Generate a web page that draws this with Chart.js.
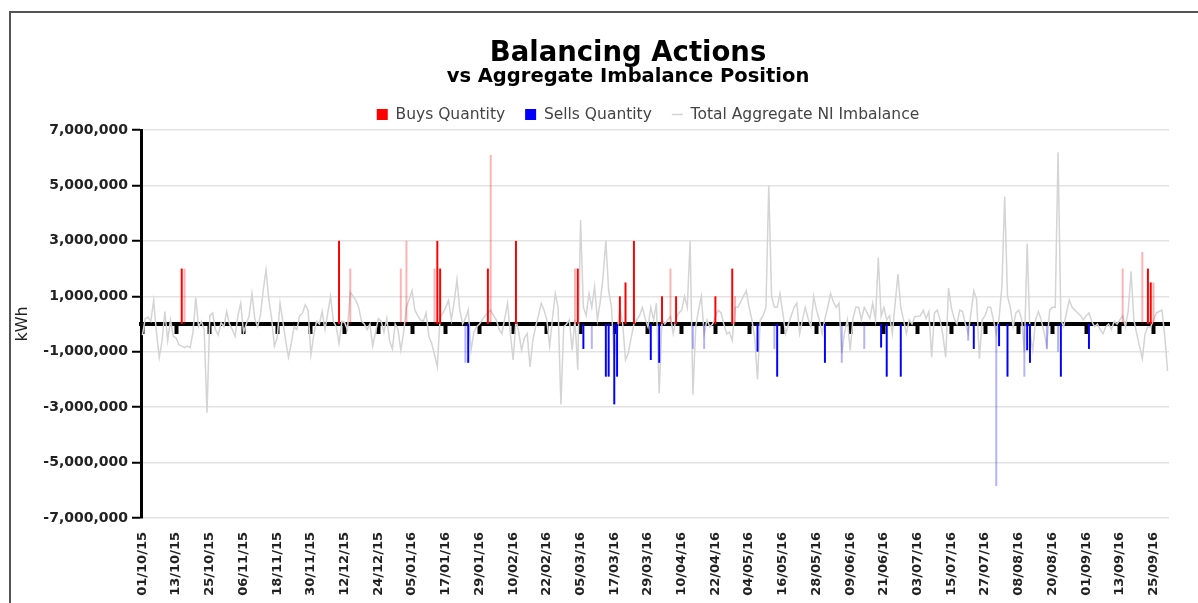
<!DOCTYPE html>
<html>
<head>
<meta charset="utf-8">
<title>Balancing Actions</title>
<script src="https://cdn.jsdelivr.net/npm/chart.js@4.4.1/dist/chart.umd.min.js"></script>
<style>
  html, body { margin: 0; padding: 0; background: #fff; overflow: hidden; }
  #frame { position: absolute; left: 9px; top: 11px; width: 1300px; height: 700px; border: 2px solid #555; }
  #chart { position: absolute; left: 0; top: 0; }
</style>
</head>
<body>
<div id="frame"></div>
<canvas id="chart" width="1198" height="603"></canvas>
<script>
// one category per day, 01/10/15 .. 30/09/16
const firstDay = [2015, 9, 1];
const dayCount = 366;
const labelEvery = 12;

// Total Aggregate NI Imbalance (kWh), one value per day
const imbalance = [
  -400000, 200000, 250000, 100000, 850000, -300000, -1200000, -600000, 450000, -600000, 150000, -450000,
  -500000, -750000, -800000, -850000, -800000, -850000, -300000, 950000, -100000, 100000, -200000, -3200000,
  300000, 400000, -200000, -400000, 50000, -100000, 450000, 0, -200000, -450000, 300000, 750000,
  -300000, 0, 300000, 1100000, 200000, -100000, 300000, 1200000, 1950000, 900000, 200000, -800000,
  -500000, 750000, 100000, -600000, -1200000, -700000, -100000, -200000, 300000, 400000, 700000, 500000,
  -1100000, -400000, 100000, 0, 450000, -200000, 400000, 1000000, 100000, -100000, -700000, 100000,
  50000, -200000, 1150000, 1000000, 850000, 600000, 100000, 0, -200000, 0, -800000, -300000,
  200000, 100000, -300000, 200000, -600000, -900000, 0, -200000, -950000, -300000, 600000, 900000,
  1200000, 500000, 300000, 150000, 100000, 400000, -450000, -700000, -1100000, -1550000, 250000, 400000,
  600000, 850000, 150000, 800000, 1600000, 500000, 0, 200000, 500000, -950000, -300000, -100000,
  0, 150000, 300000, 400000, 500000, 300000, 150000, -200000, -350000, 200000, 750000, -350000,
  -1300000, 150000, -300000, -950000, -500000, -350000, -1550000, -600000, -100000, 300000, 750000, 500000,
  150000, -800000, 200000, 1100000, 600000, -2900000, -100000, 0, 150000, -950000, 150000, -1650000,
  3750000, 600000, 300000, 1100000, 600000, 1350000, 150000, 800000, 1700000, 3000000, 1200000, 600000,
  -1300000, -300000, 600000, 0, -1300000, -1050000, -500000, 0, 150000, 300000, 600000, 200000,
  -100000, 600000, 150000, 750000, -2500000, 150000, 0, 150000, 270000, -350000, 200000, 400000,
  500000, 1000000, 600000, 3000000, -2550000, -100000, 500000, 1000000, -350000, 150000, -100000, 0,
  270000, 500000, 400000, 0, -350000, -300000, -600000, 600000, 600000, 800000, 1000000, 1200000,
  600000, 150000, -500000, -2000000, 150000, 300000, 600000, 5000000, 1000000, 600000, 600000, 1100000,
  400000, -350000, 0, 300000, 600000, 750000, -350000, 150000, 600000, 200000, -100000, 1000000,
  500000, 150000, -350000, 200000, 600000, 1100000, 800000, 600000, 750000, -1050000, -300000, 150000,
  -950000, 200000, 600000, 600000, 150000, 600000, 400000, 200000, 750000, 150000, 2400000, 270000,
  600000, 150000, 300000, -350000, 750000, 1800000, 600000, 150000, -350000, 150000, 0, 270000,
  270000, 300000, 500000, 200000, 450000, -1200000, 400000, 500000, 150000, -400000, -1200000, 1300000,
  600000, 200000, 0, 500000, 450000, 0, -350000, 400000, 1200000, 900000, -1250000, 150000,
  300000, 600000, 600000, 150000, -350000, 200000, 1350000, 4600000, 1000000, 600000, -100000, 400000,
  500000, 200000, -1000000, 2900000, -350000, -950000, 150000, 450000, 150000, -300000, -800000, 500000,
  600000, 600000, 6200000, 150000, -100000, 400000, 870000, 600000, 500000, 400000, 300000, 150000,
  300000, 400000, 100000, -100000, 0, -200000, -350000, -100000, 0, -200000, 100000, 0,
  150000, 300000, -100000, 500000, 1900000, 150000, -350000, -800000, -1250000, -350000, -100000, -100000,
  150000, 400000, 450000, 500000, -450000, -1700000
];

// Buys Quantity (kWh)
const buyDates = ['15/10/15', '10/12/15', '14/01/16', '15/01/16', '01/02/16', '11/02/16', '04/03/16', '19/03/16',
  '21/03/16', '24/03/16', '03/04/16', '08/04/16', '22/04/16', '28/04/16', '23/09/16', '24/09/16'];
const buyValues = [2000000, 3000000, 3000000, 2000000, 2000000, 3000000, 2000000, 1000000,
  1500000, 3000000, 1000000, 1000000, 1000000, 2000000, 2000000, 1500000];
// buys drawn faint in the picture
const buyDatesFaint = ['16/10/15', '14/12/15', '01/01/16', '03/01/16', '13/01/16', '02/02/16', '03/03/16', '06/04/16',
  '29/04/16', '14/09/16', '21/09/16', '25/09/16'];
const buyValuesFaint = [2000000, 2000000, 2000000, 3000000, 2000000, 6100000, 2000000, 2000000,
  1000000, 2000000, 2600000, 1500000];

// Sells Quantity (kWh)
const sellDates = ['25/01/16', '06/03/16', '14/03/16', '15/03/16', '17/03/16', '18/03/16', '30/03/16', '02/04/16',
  '07/05/16', '14/05/16', '31/05/16', '20/06/16', '22/06/16', '27/06/16', '23/07/16', '01/08/16',
  '04/08/16', '11/08/16', '12/08/16', '23/08/16', '02/09/16'];
const sellValues = [-1400000, -900000, -1900000, -1900000, -2900000, -1900000, -1300000, -1400000,
  -1000000, -1900000, -1400000, -850000, -1900000, -1900000, -900000, -800000,
  -1900000, -950000, -1400000, -1900000, -900000];
const sellDatesFaint = ['24/01/16', '09/03/16', '14/04/16', '18/04/16', '13/05/16', '06/06/16', '14/06/16', '21/07/16',
  '31/07/16', '10/08/16', '18/08/16', '22/08/16'];
const sellValuesFaint = [-1400000, -900000, -900000, -900000, -900000, -1400000, -900000, -600000,
  -5850000, -1900000, -900000, -1000000];

const yMin = -7000000;
const yMax = 7000000;
const yStep = 2000000;

function two(n) {
  return String(n).padStart(2, '0');
}

const days = [];
for (let i = 0; i < dayCount; i++) {
  const d = new Date(firstDay[0], firstDay[1], firstDay[2] + i);
  days.push(two(d.getDate()) + '/' + two(d.getMonth() + 1) + '/' + String(d.getFullYear()).slice(2));
}

function spread(dates, values) {
  const out = days.map(() => null);
  dates.forEach((d, i) => { out[days.indexOf(d)] = values[i]; });
  return out;
}

const fontFamily = 'Verdana, "DejaVu Sans", sans-serif';
Chart.defaults.font.family = fontFamily;

// title/legend are centred a little right of the canvas middle in the original
const headerShift = {
  id: 'headerShift',
  beforeLayout(chart) {
    const legend = chart.legend;
    if (legend && !legend.trimmed) {
      const fit = legend.fit;
      legend.fit = function () {
        fit.call(this);
        this.height -= 2.25;
      };
      legend.trimmed = true;
    }
  },
  afterLayout(chart) {
    chart.boxes.forEach(b => {
      if (b.options && typeof b.options.text === 'string') {
        b.left += 39;
        b.right += 39;
      }
      if (b === chart.legend) {
        b.left += 59;
        b.right += 59;
      }
    });
  }
};

const barBase = { grouped: false, barPercentage: 0.7, categoryPercentage: 1, order: 0, pointStyle: 'rect' };

new Chart(document.getElementById('chart'), {
  type: 'bar',
  data: {
    labels: days,
    datasets: [
      Object.assign({ label: 'Buys Quantity', data: spread(buyDates, buyValues), backgroundColor: '#ff0000' }, barBase),
      Object.assign({ label: 'Sells Quantity', data: spread(sellDates, sellValues), backgroundColor: '#0000ff' }, barBase),
      {
        type: 'line',
        label: 'Total Aggregate NI Imbalance',
        data: imbalance,
        borderColor: '#d4d4d4',
        backgroundColor: '#d4d4d4',
        borderWidth: 1.5,
        pointRadius: 0,
        pointStyle: 'line',
        tension: 0,
        order: 1
      },
      Object.assign({ label: 'Buys (faint)', data: spread(buyDatesFaint, buyValuesFaint), backgroundColor: 'rgba(255,0,0,0.3)' }, barBase),
      Object.assign({ label: 'Sells (faint)', data: spread(sellDatesFaint, sellValuesFaint), backgroundColor: 'rgba(0,0,255,0.3)' }, barBase)
    ]
  },
  options: {
    responsive: false,
    animation: false,
    devicePixelRatio: 1,
    layout: { padding: { left: 9, right: 29, top: 0, bottom: 0 } },
    plugins: {
      title: {
        display: true,
        text: 'Balancing Actions',
        color: '#000',
        font: { size: 27.5, weight: 'bold', lineHeight: 1 },
        padding: { top: 39.75, bottom: 0 }
      },
      subtitle: {
        display: true,
        text: 'vs Aggregate Imbalance Position',
        color: '#000',
        font: { size: 19.5, weight: 'bold', lineHeight: 1 },
        padding: { top: 0, bottom: 0 }
      },
      legend: {
        labels: {
          usePointStyle: true,
          pointStyleWidth: 11,
          boxHeight: 11,
          padding: 20,
          color: '#444',
          font: { size: 15.5 },
          filter: item => item.datasetIndex < 3
        }
      },
      tooltip: { enabled: false }
    },
    scales: {
      x: {
        offset: true,
        grid: { display: false },
        border: { display: false },
        ticks: {
          autoSkip: false,
          maxRotation: 90,
          minRotation: 90,
          padding: 6,
          color: '#222',
          font: { size: 13, weight: 'bold' },
          callback: function (v, i) {
            return i % labelEvery === 0 ? this.getLabelForValue(v) : '';
          }
        },
        afterFit: s => { s.height = 85; }
      },
      x2: {
        axis: 'x',
        type: 'category',
        position: { y: 0 },
        offset: true,
        grid: {
          drawOnChartArea: false,
          offset: false,
          tickLength: 8,
          tickWidth: 4,
          tickColor: ctx => ctx.index % labelEvery === 0 ? '#000' : 'rgba(0,0,0,0)'
        },
        border: { color: '#000', width: 4 },
        ticks: { display: false, autoSkip: false }
      },
      y: {
        min: yMin,
        max: yMax,
        ticks: {
          stepSize: yStep,
          padding: 4,
          color: '#222',
          font: { size: 14, weight: 'bold' },
          callback: v => v.toLocaleString('en-US')
        },
        grid: { color: '#e3e3e3', lineWidth: 1.5, tickColor: '#000', tickWidth: 2, tickLength: 9 },
        border: { color: '#000', width: 3 },
        title: { display: true, text: 'kWh', color: '#222', font: { size: 16 }, padding: { top: 4, bottom: 4 } },
        afterFit: s => { s.width = 132; }
      }
    }
  },
  plugins: [headerShift]
});
</script>
</body>
</html>
